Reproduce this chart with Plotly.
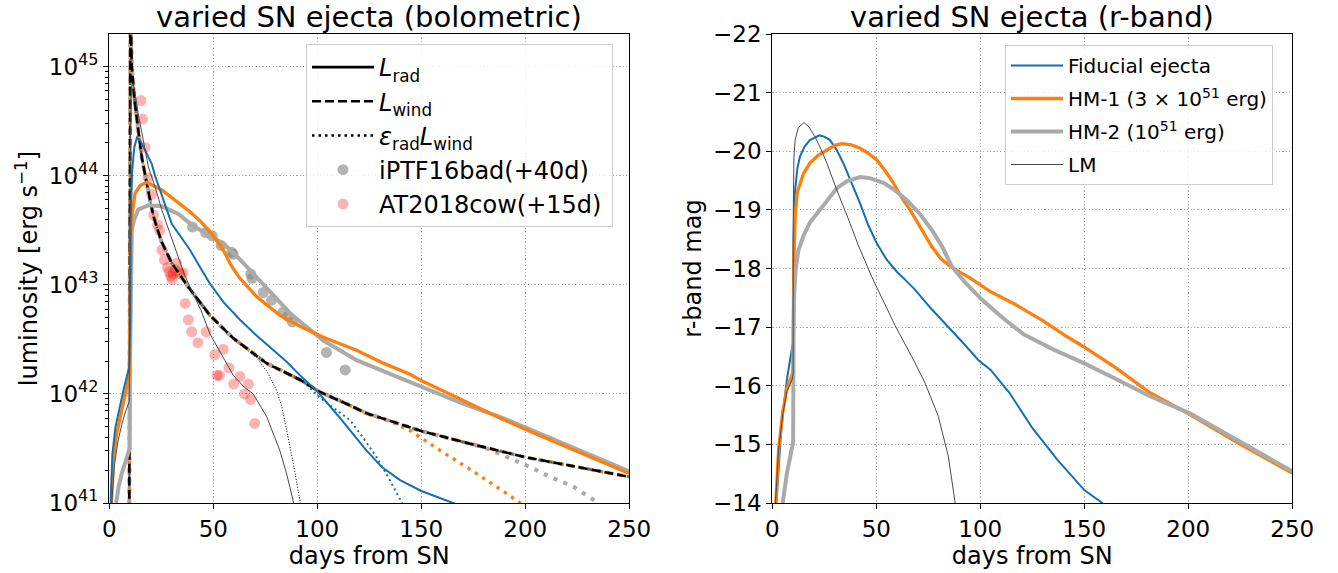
import plotly.graph_objects as go

# ---------------- data: left panel (log10 luminosity, erg/s) ----------------
fid_t = [0.6, 1.5, 3, 5, 7, 9.6, 10.0, 10.3, 11, 12, 13.3, 15, 17.2, 20.4, 22, 25.2, 30, 34.8, 38.8, 44,
         48.4, 55, 62.8, 70, 78.8, 85, 91.7, 99.7, 110, 117, 123.7, 131, 139.8, 150, 165, 175]
fid_logL = [41.0, 41.45, 41.7, 41.88, 42.05, 42.25, 42.6, 43.6, 44.05, 44.26, 44.35, 44.32, 44.24, 44.11, 44.0,
            43.82, 43.56, 43.43, 43.32, 43.15, 43.01, 42.84, 42.68, 42.55, 42.40, 42.30, 42.17, 42.03, 41.80,
            41.64, 41.48, 41.33, 41.21, 41.11, 41.0, 40.93]

hm1_t = [1.0, 2, 3.5, 6, 8.5, 9.6, 10.0, 10.3, 10.8, 12.4, 14.8, 18, 25.2, 33.2, 38.8, 44, 49.2, 54.8, 58.5,
         62.8, 70.9, 82, 91.7, 102.9, 118.9, 132, 144.6, 150.2, 171.8, 187.8, 200.7, 225, 250]
hm1_logL = [41.0, 41.4, 41.63, 41.85, 42.05, 42.17, 42.8, 43.45, 43.62, 43.84, 43.91, 43.94, 43.87, 43.75, 43.67,
            43.58, 43.47, 43.32, 43.18, 43.06, 42.89, 42.72, 42.62, 42.52, 42.40, 42.28, 42.18, 42.12, 41.92,
            41.78, 41.67, 41.47, 41.27]

hm2_t = [3.3, 4.5, 6, 8, 9.8, 10.0, 10.3, 10.8, 12, 13.9, 18.8, 25.2, 33.2, 39.6, 49.2, 54.8, 62, 70.9, 78,
         86.9, 92, 102.9, 118.9, 138.2, 150, 170, 187.8, 200, 225, 250]
hm2_logL = [41.0, 41.15, 41.27, 41.4, 41.5, 42.3, 43.2, 43.5, 43.6, 43.69, 43.73, 43.72, 43.65, 43.55, 43.44,
            43.38, 43.25, 43.07, 42.92, 42.74, 42.66, 42.49, 42.31, 42.16, 42.06, 41.91, 41.79, 41.69, 41.49,
            41.29]

lm_t = [1.2, 2.5, 4, 6, 8, 9.6, 10.0, 10.5, 11.4, 12.4, 13.9, 16.3, 18.8, 22, 25.2, 29.2, 33, 36, 40, 44,
        48.4, 54, 59.6, 65, 69.2, 75.7, 82, 85.5, 88.5, 90.5]
lm_logL = [41.0, 41.35, 41.55, 41.72, 41.85, 41.93, 44.0, 44.8, 44.85, 44.76, 44.57, 44.33, 44.08, 43.90, 43.69,
           43.47, 43.27, 43.10, 42.93, 42.77, 42.55, 42.36, 42.17, 42.06, 42.0, 41.79, 41.48, 41.25, 41.02, 40.85]

wind_t = [9.6, 10.15, 10.8, 12, 13.9, 15.6, 18, 21.2, 25, 30, 38, 48.4, 59.6, 75.7, 91.7, 101, 114, 124, 150,
          172, 200, 225, 250]
wind_logL = [40.8, 45.6, 45.0, 44.72, 44.42, 44.17, 43.93, 43.63, 43.40, 43.20, 42.98, 42.72, 42.51, 42.28,
             42.13, 42.02, 41.91, 41.82, 41.66, 41.55, 41.42, 41.33, 41.24]

# departing tails of eps_rad * L_wind
fid_eps_t = [95, 101, 108, 115.7, 122, 128.5, 134, 139.8, 143]
fid_eps_logL = [42.08, 41.97, 41.87, 41.76, 41.6, 41.42, 41.24, 41.04, 40.92]
hm1_eps_t = [125, 135, 145, 160, 175, 190, 197.5, 202]
hm1_eps_logL = [41.81, 41.75, 41.66, 41.47, 41.29, 41.10, 41.0, 40.94]
hm2_eps_t = [170, 180, 187.8, 202.3, 211.9, 223.1, 232.7, 236]
hm2_eps_logL = [41.56, 41.51, 41.45, 41.33, 41.24, 41.15, 41.03, 40.98]
lm_eps_t = [68, 70.9, 76, 80.5, 83, 85.3, 88.5, 91.7, 92.6]
lm_eps_logL = [42.38, 42.33, 42.2, 42.03, 41.88, 41.67, 41.36, 41.02, 40.9]

# observed light curves
iptf_t = [40.0, 46.3, 49.5, 53.8, 58.8, 59.6, 68.0, 68.6, 74.0, 78.0, 83.5, 86.0, 88.0, 104.4, 113.4]
iptf_logL = [43.53, 43.48, 43.45, 43.36, 43.30, 43.28, 43.10, 43.06, 42.93, 42.86, 42.75, 42.71, 42.66, 42.38, 42.22]
cow_t = [15.2, 16.0, 17.2, 18.6, 20.3, 21.3, 23.2, 24.2, 25.3, 26.5, 28.0, 28.8, 29.5, 30.2, 30.8, 31.6, 32.4,
         33.4, 34.2, 35.4, 36.5, 38.0, 39.6, 42.6, 46.6, 50.7, 54.8, 51.7, 53.0, 57.5, 59.8, 62.8, 64.9, 66.9,
         67.9, 69.9]
cow_logL = [44.69, 44.52, 44.26, 43.98, 43.83, 43.64, 43.55, 43.50, 43.32, 43.23, 43.16, 43.12, 43.08, 43.05,
            43.10, 43.14, 43.20, 43.12, 43.10, 43.11, 42.83, 42.68, 42.57, 42.47, 42.57, 42.36, 42.41, 42.17,
            42.17, 42.24, 42.09, 42.16, 42.0, 42.09, 41.95, 41.73]

# ---------------- data: right panel (r-band magnitude) ----------------
r_fid_t = [2.0, 3.0, 4.0, 5.3, 7.0, 9.5, 10.0, 10.2, 10.6, 12.0, 13.3, 15.5, 18.1, 22.6, 25, 27.7, 31, 34.1, 38,
           42.2, 46, 50.2, 55, 60, 63.8, 68.6, 76, 84.6, 92, 99, 105, 114, 125, 137, 150, 157.5, 162]
r_fid_mag = [-14.0, -14.6, -15.1, -15.6, -16.1, -16.65, -16.75, -18.5, -19.2, -19.7, -19.91, -20.08, -20.19,
             -20.27, -20.25, -20.19, -20.02, -19.80, -19.48, -19.11, -18.75, -18.43, -18.15, -17.94, -17.81,
             -17.64, -17.33, -17.01, -16.72, -16.44, -16.27, -15.88, -15.28, -14.74, -14.22, -14.03, -13.9]
r_hm1_t = [1.7, 3.0, 5.0, 7.0, 9.6, 10.0, 10.3, 11.0, 12.0, 15.0, 18.1, 22, 26.2, 30, 33.4, 38, 42.2, 46, 50.2,
           54, 58.2, 62, 66.2, 71, 76.6, 81, 86.2, 95, 104.7, 116.7, 130, 140.7, 149.5, 165, 181.6, 200.8, 225,
           250]
r_hm1_mag = [-14.0, -14.9, -15.55, -15.95, -16.2, -16.3, -18.0, -18.9, -19.3, -19.62, -19.80, -19.93, -20.02,
             -20.10, -20.13, -20.11, -20.05, -19.97, -19.85, -19.68, -19.46, -19.22, -19.0, -18.72, -18.38,
             -18.17, -18.02, -17.84, -17.61, -17.39, -17.11, -16.86, -16.67, -16.31, -15.88, -15.51, -15.0,
             -14.51]
r_hm2_t = [5.0, 7.0, 9.5, 10.0, 10.2, 10.5, 11.2, 12.5, 14.9, 18, 22.9, 27, 31, 36, 42.2, 47, 53.4, 58, 64.6, 71,
           77.4, 82, 86.2, 93, 100.7, 110, 120.7, 135, 149.5, 165, 181.6, 200.8, 225, 250]
r_hm2_mag = [-14.0, -14.5, -14.95, -15.02, -16.8, -17.55, -17.98, -18.3, -18.55, -18.78, -19.0, -19.2, -19.37,
             -19.49, -19.56, -19.54, -19.46, -19.36, -19.17, -18.93, -18.62, -18.35, -18.04, -17.75, -17.47,
             -17.18, -16.88, -16.62, -16.39, -16.12, -15.82, -15.53, -15.04, -14.54]
r_lm_t = [1.5, 3, 5, 7, 9.5, 10.0, 10.1, 10.4, 11.0, 12.5, 15.2, 17.5, 20.5, 23.5, 26.2, 31, 37.4, 41.3, 47.8,
          54, 59, 67, 73.4, 79.8, 84.6, 87.8, 89.5]
r_lm_mag = [-14.0, -14.9, -15.5, -15.9, -16.1, -16.2, -19.0, -19.9, -20.2, -20.4, -20.49, -20.42, -20.25,
            -20.03, -19.80, -19.34, -18.77, -18.40, -17.86, -17.40, -17.03, -16.50, -16.05, -15.48, -14.80,
            -14.03, -13.7]

x_ticks = [0, 50, 100, 150, 200, 250]
logL_ticks = [41, 42, 43, 44, 45]
mag_ticks = [-22, -21, -20, -19, -18, -17, -16, -15, -14]

# ---------------- styles ----------------
BLUE = "#1570b0"
ORANGE = "#ff7f0e"
GRAY = "#aaaaaa"
LMC = "#4a4a4a"
FONT = "DejaVu Sans"
PAD = "<sub> </sub>"  # keeps every left-legend row the same height


def lum(v):
    return [10.0 ** x for x in v]


def wind_prefix(tail_t, tail_v):
    pt = [t for t in wind_t if t < tail_t[0]]
    pv = [v for t, v in zip(wind_t, wind_logL) if t < tail_t[0]]
    return pt + tail_t, pv + tail_v


fig = go.Figure()

# observed data (under the model lines)
fig.add_trace(go.Scatter(x=iptf_t, y=lum(iptf_logL), mode="markers", name="iPTF16bad(+40d)" + PAD,
                         marker=dict(size=11, color="rgba(128,128,128,0.6)", line=dict(width=0)),
                         legendrank=4, legendgroup="g4", xaxis="x", yaxis="y"))
fig.add_trace(go.Scatter(x=cow_t, y=lum(cow_logL), mode="markers", name="AT2018cow(+15d)" + PAD,
                         marker=dict(size=11, color="rgba(255,0,0,0.3)", line=dict(width=0)),
                         legendrank=5, legendgroup="g5", xaxis="x", yaxis="y"))

# model L_wind (coloured dashes under the black one)
for col, w, d in [(GRAY, 3.5, "6px,4px"), (ORANGE, 3.0, "5px,5px"), (BLUE, 2.0, "4px,6px")]:
    fig.add_trace(go.Scatter(x=wind_t, y=lum(wind_logL), mode="lines", showlegend=False,
                             line=dict(color=col, width=w, dash=d), xaxis="x", yaxis="y"))

# eps_rad L_wind dotted
for tt, vv, col, w, d in [(lm_eps_t, lm_eps_logL, "#000000", 1.0, "1px,1.7px"),
                          (fid_eps_t, fid_eps_logL, BLUE, 2.0, "2px,3.3px"),
                          (hm1_eps_t, hm1_eps_logL, ORANGE, 3.3, "3.3px,5.4px"),
                          (hm2_eps_t, hm2_eps_logL, GRAY, 4.0, "4px,6.6px")]:
    xt, xv = wind_prefix(tt, vv)
    fig.add_trace(go.Scatter(x=xt, y=lum(xv), mode="lines", showlegend=False,
                             line=dict(color=col, width=w, dash=d), xaxis="x", yaxis="y"))

# black L_wind
fig.add_trace(go.Scatter(x=wind_t, y=lum(wind_logL), mode="lines", showlegend=False,
                         line=dict(color="black", width=2.6, dash="9px,4px"), xaxis="x", yaxis="y"))

# L_rad solid
fig.add_trace(go.Scatter(x=hm2_t, y=lum(hm2_logL), mode="lines", showlegend=False,
                         line=dict(color=GRAY, width=4), xaxis="x", yaxis="y"))
fig.add_trace(go.Scatter(x=hm1_t, y=lum(hm1_logL), mode="lines", showlegend=False,
                         line=dict(color=ORANGE, width=3.3), xaxis="x", yaxis="y"))
fig.add_trace(go.Scatter(x=fid_t, y=lum(fid_logL), mode="lines", showlegend=False,
                         line=dict(color=BLUE, width=2), xaxis="x", yaxis="y"))
fig.add_trace(go.Scatter(x=lm_t, y=lum(lm_logL), mode="lines", showlegend=False,
                         line=dict(color=LMC, width=1), xaxis="x", yaxis="y"))

# legend-only style entries
for name, dash, rank in [("<i>L</i><sub>rad</sub>", "solid", 1),
                         ("<i>L</i><sub>wind</sub>", "9px,4px", 2),
                         ("<i>ε</i><sub>rad</sub><i>L</i><sub>wind</sub>", "2.5px,4px", 3)]:
    fig.add_trace(go.Scatter(x=[None], y=[None], mode="lines", name=name, legendrank=rank,
                             legendgroup=f"g{rank}",
                             line=dict(color="black", width=2.6, dash=dash), xaxis="x", yaxis="y"))

# right panel
fig.add_trace(go.Scatter(x=r_fid_t, y=r_fid_mag, mode="lines", name="Fiducial ejecta",
                         line=dict(color=BLUE, width=2), legend="legend2", legendrank=1, legendgroup="r1",
                         xaxis="x2", yaxis="y2"))
fig.add_trace(go.Scatter(x=r_hm1_t, y=r_hm1_mag, mode="lines", name="HM-1 (3 × 10<sup>51</sup> erg)",
                         line=dict(color=ORANGE, width=3.3), legend="legend2", legendrank=2, legendgroup="r2",
                         xaxis="x2", yaxis="y2"))
fig.add_trace(go.Scatter(x=r_hm2_t, y=r_hm2_mag, mode="lines", name="HM-2 (10<sup>51</sup> erg)",
                         line=dict(color=GRAY, width=4), legend="legend2", legendrank=3, legendgroup="r3",
                         xaxis="x2", yaxis="y2"))
fig.add_trace(go.Scatter(x=r_lm_t, y=r_lm_mag, mode="lines", name="LM",
                         line=dict(color=LMC, width=1), legend="legend2", legendrank=4, legendgroup="r4",
                         xaxis="x2", yaxis="y2"))

W, H = 1338, 573
axis_common = dict(showline=True, mirror=True, linecolor="black", linewidth=1.3,
                   ticks="outside", ticklen=5, tickwidth=1.3, tickcolor="black",
                   showgrid=True, gridcolor="#a8a8a8", griddash="1.2px,2.2px", gridwidth=1,
                   zeroline=False, automargin=False,
                   tickfont=dict(family=FONT, size=23, color="black"))

minor_vals = [float(m) * 10.0 ** e for e in range(41, 46) for m in range(2, 10)]

fig.update_layout(
    width=W, height=H,
    margin=dict(l=0, r=0, t=34, b=70),
    paper_bgcolor="white", plot_bgcolor="white",
    font=dict(family=FONT, color="black"),
    xaxis=dict(domain=[109.3 / W, 629.3 / W], range=[0, 250], tickvals=x_ticks,
               title=dict(text="days from SN", font=dict(size=24), standoff=6), **axis_common),
    yaxis=dict(type="log", range=[41, 45.3], tickvals=[10.0 ** v for v in logL_ticks],
               ticktext=[f"10<sup>{v}</sup>" for v in logL_ticks],
               minor=dict(ticks="outside", ticklen=3, tickwidth=1, tickcolor="black",
                          tickvals=minor_vals, showgrid=False),
               title=dict(text="luminosity [erg s<sup>−1</sup>]", font=dict(size=24), standoff=4),
               anchor="x", **axis_common),
    xaxis2=dict(domain=[772.3 / W, 1292.3 / W], range=[0, 250], tickvals=x_ticks, anchor="y2",
                title=dict(text="days from SN", font=dict(size=24), standoff=6), **axis_common),
    yaxis2=dict(range=[-14, -22], tickvals=mag_ticks, anchor="x2",
                title=dict(text="r-band mag", font=dict(size=24), standoff=4), **axis_common),
    legend=dict(x=306 / W, y=1 - (44 - 34) / 469, xanchor="left", yanchor="top",
                bgcolor="rgba(255,255,255,0.8)", bordercolor="#cccccc", borderwidth=1,
                itemwidth=62, tracegroupgap=0, traceorder="grouped",
                font=dict(family=FONT, size=24, color="black")),
    legend2=dict(x=1005 / W, y=1 - (45 - 34) / 469, xanchor="left", yanchor="top",
                 bgcolor="rgba(255,255,255,0.8)", bordercolor="#cccccc", borderwidth=1,
                 itemwidth=52, tracegroupgap=4, traceorder="grouped",
                 font=dict(family=FONT, size=20, color="black")),
    annotations=[
        dict(text="varied SN ejecta (bolometric)", x=369.3 / W, y=1 + 17 / 469, xref="paper", yref="paper",
             xanchor="center", yanchor="middle", showarrow=False, borderpad=0,
             font=dict(family=FONT, size=29)),
        dict(text="varied SN ejecta (r-band)", x=1032.3 / W, y=1 + 17 / 469, xref="paper", yref="paper",
             xanchor="center", yanchor="middle", showarrow=False, borderpad=0,
             font=dict(family=FONT, size=29)),
    ],
)

fig.write_html("out.html", config={"displayModeBar": False},
               post_script="document.body.style.margin='0';document.body.style.overflow='hidden';")
